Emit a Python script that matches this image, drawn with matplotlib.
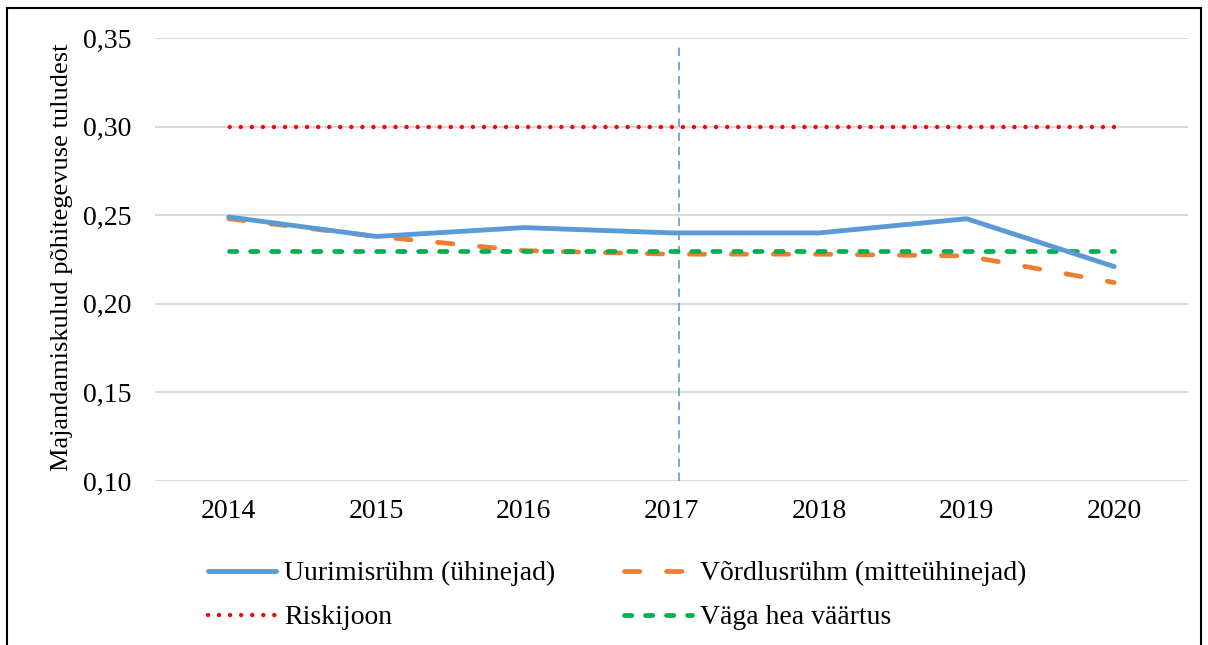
import matplotlib
matplotlib.use("Agg")
import matplotlib.pyplot as plt
from matplotlib.lines import Line2D

years = ["2014", "2015", "2016", "2017", "2018", "2019", "2020"]
uurimis = [0.249, 0.238, 0.243, 0.240, 0.240, 0.248, 0.221]
vordlus = [0.248, 0.238, 0.230, 0.228, 0.228, 0.227, 0.212]
risk = [0.30] * 7
vaga_hea = [0.23] * 7
yticks = [0.10, 0.15, 0.20, 0.25, 0.30, 0.35]
ytick_labels = ["0,10", "0,15", "0,20", "0,25", "0,30", "0,35"]
labels = ["Uurimisrühm (ühinejad)", "Võrdlusrühm (mitteühinejad)", "Riskijoon", "Väga hea väärtus"]
vline_pos = 3.05  # slightly right of 2017 category centre

plt.rcParams['font.family'] = ['Liberation Serif', 'DejaVu Serif']

W, H = 1208, 645
fig = plt.figure(figsize=(W / 100, H / 100), dpi=100)
ax = fig.add_axes([155 / W, 1 - 481 / H, (1188 - 155) / W, (481 - 38) / H])

x = list(range(len(years)))
blue = "#5B9BD5"
orange = "#ED7D31"
red = "#FF0000"
green = "#00B050"

l1, = ax.plot(x, uurimis, color=blue, lw=3.5, solid_capstyle='round', zorder=4)
l2, = ax.plot(x, vordlus, color=orange, lw=3.4, linestyle=(0, (3.25, 5.65)),
              dash_capstyle='round', zorder=3)
# drawn from the 2020 end so that the dot pattern starts on the last point
l3, = ax.plot(x[::-1], risk[::-1], color=red, lw=3.2, linestyle=(0, (0.001, 2.486)),
              dash_capstyle='round', zorder=3)
l4, = ax.plot(x, vaga_hea, color=green, lw=3.4, linestyle=(0, (1.55, 2.9)),
              dash_capstyle='round', zorder=3)

ax.axvline(vline_pos, ymin=0, ymax=0.989, color=blue, lw=1.2, linestyle=(0, (5, 3.5)), zorder=2)

ax.set_xlim(-0.5, len(years) - 0.5)
ax.set_ylim(0.10, 0.35)
ax.set_xticks(x)
ax.set_xticklabels(years, fontsize=20)
ax.set_yticks(yticks)
ax.set_yticklabels(ytick_labels, fontsize=20)
ax.tick_params(axis='x', length=0, pad=13)
ax.tick_params(axis='y', length=0, pad=17)
ax.grid(axis='y', color='#d9d9d9', lw=1.5)
ax.set_axisbelow(True)
for s in ax.spines.values():
    s.set_visible(False)

fig.text(62 / W, 1 - 257 / H, "Majandamiskulud põhitegevuse tuludest", rotation=90,
         fontsize=19, ha='center', va='center')

leg = fig.legend([l1, l3, l2, l4], [labels[0], labels[2], labels[1], labels[3]],
                 loc='upper left', bbox_to_anchor=(208 / W, 1 - 561 / H), ncol=2,
                 frameon=False, fontsize=20, handlelength=2.45, handletextpad=0.3,
                 columnspacing=2.45, labelspacing=0.67, borderpad=0, borderaxespad=0)

# figure frame
fig.add_artist(Line2D([7 / W, 7 / W], [0, 1 - 8 / H], transform=fig.transFigure, color='black', lw=1.5))
fig.add_artist(Line2D([7 / W, 1201 / W], [1 - 8 / H, 1 - 8 / H], transform=fig.transFigure, color='black', lw=1.5))
fig.add_artist(Line2D([1201 / W, 1201 / W], [0, 1 - 8 / H], transform=fig.transFigure, color='black', lw=1.5))

fig.savefig("out.png", dpi=100)
